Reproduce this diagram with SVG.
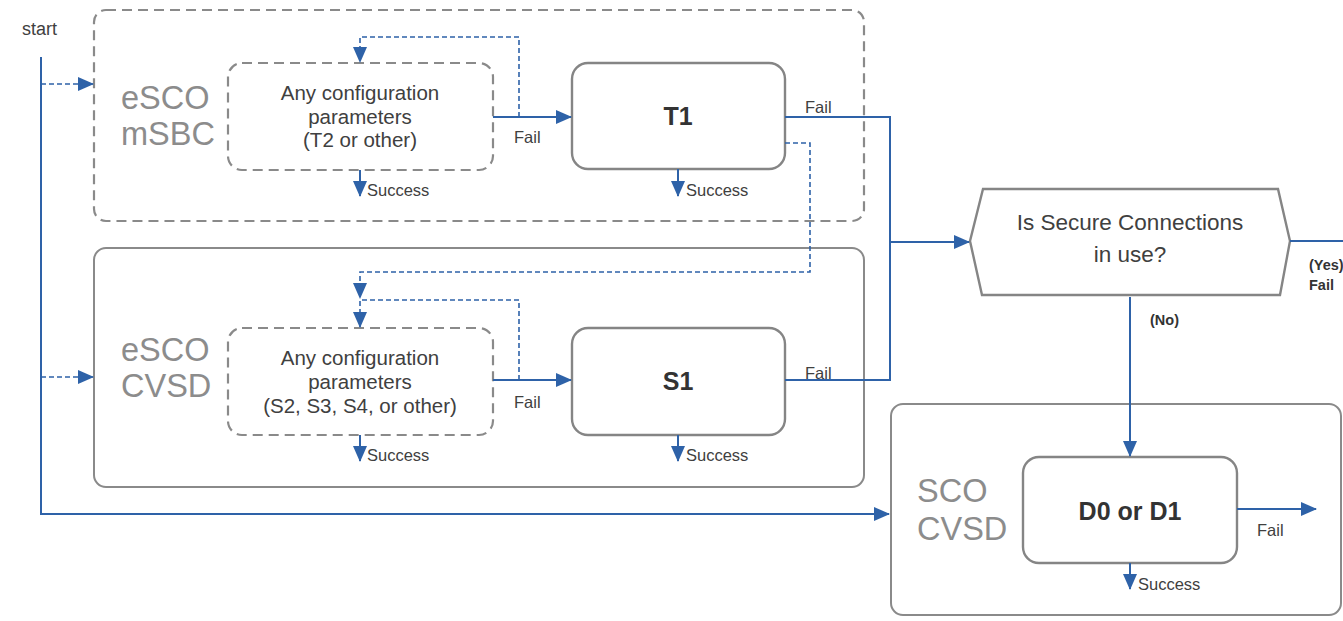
<svg xmlns="http://www.w3.org/2000/svg" width="1343" height="621" viewBox="0 0 1343 621">
<defs>
<marker id="ah" markerUnits="userSpaceOnUse" markerWidth="16" markerHeight="14" viewBox="0 0 16 14" refX="15" refY="7" orient="auto">
<path d="M0,0 L16,7 L0,14 Z" fill="#2e62a8"/>
</marker>
</defs>
<style>
.txt{font-family:"Liberation Sans",Arial,sans-serif;fill:#404040}
.big{font-family:"Liberation Sans",Arial,sans-serif;fill:#8c8c8c;font-size:32.5px}
.mid{font-size:20.5px;text-anchor:middle}
.sm{font-size:16.5px}
.bold{font-weight:bold;font-size:25px;text-anchor:middle;fill:#333}
.tiny{font-size:14.5px;font-weight:bold;fill:#333}
.grp{fill:#fff;stroke:#8a8a8a;stroke-width:2}
.dash{fill:#fff;stroke:#8a8a8a;stroke-width:2.2;stroke-dasharray:10 6}
.box{fill:#fff;stroke:#858585;stroke-width:2.4}
.c{fill:none;stroke:#2e62a8;stroke-width:2}
.cd{fill:none;stroke:#2e62a8;stroke-width:1.6;stroke-dasharray:5 3}
</style>
<rect width="1343" height="621" fill="#fff"/>
<g id="grp-msbc">
<rect class="dash" x="94" y="10" width="770" height="211" rx="12"/>
<text class="big" x="121" y="109">eSCO</text>
<text class="big" x="121" y="145">mSBC</text>
</g>
<g id="grp-cvsd">
<rect class="grp" x="94" y="248" width="770" height="239" rx="12"/>
<text class="big" x="121" y="361">eSCO</text>
<text class="big" x="121" y="397">CVSD</text>
</g>
<g id="grp-sco">
<rect class="grp" x="891" y="404" width="450" height="211" rx="12"/>
<text class="big" x="917" y="502">SCO</text>
<text class="big" x="917" y="540">CVSD</text>
</g>
<g id="start">
<text class="txt" x="22" y="35" font-size="18">start</text>
</g>
<g id="cfg1">
<rect class="dash" x="228" y="63" width="265" height="107" rx="14"/>
<text class="txt mid" x="360" y="100">Any configuration</text>
<text class="txt mid" x="360" y="124">parameters</text>
<text class="txt mid" x="360" y="147">(T2 or other)</text>
</g>
<g id="t1">
<rect class="box" x="572" y="63" width="213" height="106" rx="16"/>
<text class="txt bold" x="678" y="125">T1</text>
</g>
<g id="cfg2">
<rect class="dash" x="228" y="328" width="265" height="107" rx="14"/>
<text class="txt mid" x="360" y="365">Any configuration</text>
<text class="txt mid" x="360" y="389">parameters</text>
<text class="txt mid" x="360" y="413">(S2, S3, S4, or other)</text>
</g>
<g id="s1">
<rect class="box" x="572" y="328" width="213" height="107" rx="16"/>
<text class="txt bold" x="678" y="390">S1</text>
</g>
<g id="decision">
<path d="M970,241 L983,189 L1278,189 L1290,241 L1280,295 L982,295 Z" fill="#fff" stroke="#858585" stroke-width="2.4"/>
<text class="txt" x="1130" y="230" font-size="22.5" text-anchor="middle">Is Secure Connections</text>
<text class="txt" x="1130" y="262" font-size="22.5" text-anchor="middle">in use?</text>
</g>
<g id="d0">
<rect class="box" x="1023" y="457" width="214" height="106" rx="16"/>
<text class="txt bold" x="1130" y="520">D0 or D1</text>
</g>
<g id="connectors">
<path class="c" d="M41,57 V514 H889" marker-end="url(#ah)"/>
<path class="cd" d="M41,84 H93" marker-end="url(#ah)"/>
<path class="cd" d="M41,377 H93" marker-end="url(#ah)"/>
<path class="c" d="M493,117 H571" marker-end="url(#ah)"/>
<path class="cd" d="M519,117 V37 H360 V62" marker-end="url(#ah)"/>
<path class="c" d="M785,117 H890 V380 H785"/>
<path class="c" d="M890,242 H969" marker-end="url(#ah)"/>
<path class="cd" d="M785,143 H810 V272 H360 V298" marker-end="url(#ah)"/>
<path class="cd" d="M519,380 V300 H360 V327" marker-end="url(#ah)"/>
<path class="c" d="M493,380 H571" marker-end="url(#ah)"/>
<path class="c" d="M360,170 V196" marker-end="url(#ah)"/>
<path class="c" d="M678,169 V196" marker-end="url(#ah)"/>
<path class="c" d="M360,435 V461" marker-end="url(#ah)"/>
<path class="c" d="M678,435 V461" marker-end="url(#ah)"/>
<path class="c" d="M1130,563 V589" marker-end="url(#ah)"/>
<path class="c" d="M1290,241 H1343"/>
<path class="c" d="M1130,297 V456" marker-end="url(#ah)"/>
<path class="c" d="M1237,509 H1316" marker-end="url(#ah)"/>
<text class="txt sm" x="514" y="143">Fail</text>
<text class="txt sm" x="805" y="113">Fail</text>
<text class="txt sm" x="367" y="196">Success</text>
<text class="txt sm" x="686" y="196">Success</text>
<text class="txt sm" x="514" y="408">Fail</text>
<text class="txt sm" x="805" y="379">Fail</text>
<text class="txt sm" x="367" y="461">Success</text>
<text class="txt sm" x="686" y="461">Success</text>
<text class="txt sm" x="1138" y="590">Success</text>
<text class="txt sm" x="1257" y="536">Fail</text>
<text class="txt tiny" x="1150" y="325">(No)</text>
<text class="txt tiny" x="1309" y="270">(Yes)</text>
<text class="txt tiny" x="1309" y="290">Fail</text>
</g>
</svg>
